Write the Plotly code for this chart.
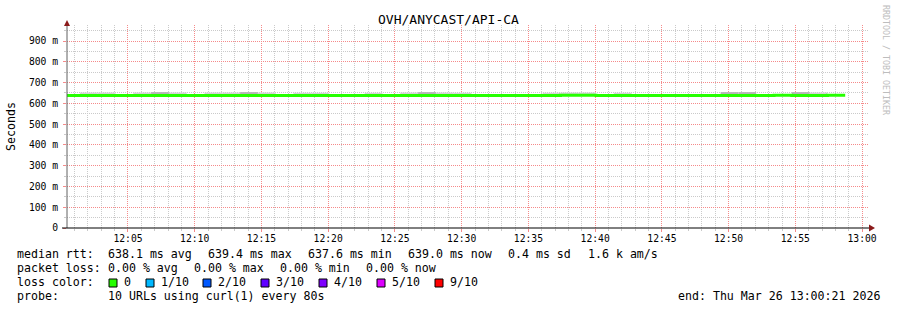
import plotly.graph_objects as go
import pandas as pd

# ---------------- data ----------------
title = "OVH/ANYCAST/API-CA"
first_edge = "2026-03-26 12:00:04"   # left edge of first 80 s sample
step_seconds = 80

# median rtt per 80 s interval (ms)
median_ms = [638.0, 637.9, 637.8, 638.0, 637.9, 638.1, 637.8, 637.9, 638.0, 637.8,
             638.1, 637.9, 637.7, 638.0, 637.9, 637.8, 637.9, 638.0, 637.8, 637.9,
             638.2, 637.9, 637.8, 638.0, 637.9, 637.7, 637.8, 638.0, 639.3, 639.4,
             638.0, 637.9, 637.8, 637.6, 637.8, 637.9, 637.8, 638.0, 637.9, 637.7,
             639.2, 637.8, 637.9, 639.0]

# upper edge of the visible smoke (ms); None = hidden under the median line
N = None
smoke_light_top = [N, 652, 652, N, 652, N, 652, N, 652, 652,
                   N, 652, N, 651, 651, N, N, 651, N, 652,
                   N, 652, 651, N, N, N, N, 651, 652, 652,
                   N, 651, N, N, N, N, N, N, N, N,
                   N, N, 652, N]
smoke_dark_top = [N, N, N, N, N, 654, N, N, N, N,
                  654, N, N, N, N, N, N, N, N, N,
                  654, N, N, N, N, N, N, N, N, N,
                  N, N, N, N, N, N, N, 654, 654, N,
                  N, 654, N, N]

x_range = ["2026-03-26 12:00:26", "2026-03-26 13:00:31"]
y_range = [0, 977]
y_tickvals = [0, 100, 200, 300, 400, 500, 600, 700, 800, 900]
y_ticktext = ["0", "100 m", "200 m", "300 m", "400 m", "500 m", "600 m", "700 m", "800 m", "900 m"]

stats_rtt = ["median rtt:", "638.1 ms avg", "639.4 ms max", "637.6 ms min",
             "639.0 ms now", "0.4 ms sd", "1.6 k am/s"]
stats_loss = ["packet loss:", "0.00 % avg", "0.00 % max", "0.00 % min", "0.00 % now"]
loss_labels = ["0", "1/10", "2/10", "3/10", "4/10", "5/10", "9/10"]
loss_colors = ["#26ff00", "#00b8ff", "#0059ff", "#5e00ff", "#7e00ff", "#dd00ff", "#ff0000"]
probe_text = "10 URLs using curl(1) every 80s"
end_text = "end: Thu Mar 26 13:00:21 2026"

# ---------------- layout geometry ----------------
W, H = 897, 310
PL, PR, PT, PB = 67, 869, 25, 228   # plot area in pixels


def px(x):
    return (x - PL) / (PR - PL)


def py(y):
    return (PB - y) / (PB - PT)


MONO = "DejaVu Sans Mono"

t0 = pd.Timestamp(first_edge)
step = pd.Timedelta(seconds=step_seconds)
edges = [t0 + step * i for i in range(len(median_ms) + 1)]
centers = [t0 + step * i + step / 2 for i in range(len(median_ms))]

hour0 = pd.Timestamp("2026-03-26 12:00:00")
x_minor = [hour0 + pd.Timedelta(minutes=m) for m in range(1, 61) if m % 5 != 0]
y_minor = [v for v in range(50, 1000, 100)]

fig = go.Figure()


def smoke_trace(tops, color):
    xs, bases, hs = [], [], []
    for c, m, t in zip(centers, median_ms, tops):
        if t is not None:
            xs.append(c)
            bases.append(m)
            hs.append(t - m)
    fig.add_trace(go.Bar(x=xs, y=hs, base=bases, width=step_seconds * 1000,
                         marker=dict(color=color, line=dict(width=0)),
                         showlegend=False, hoverinfo="skip"))


smoke_trace(smoke_light_top, "#d3d3d3")
smoke_trace(smoke_dark_top, "#b5b5b5")

fig.add_trace(go.Scatter(x=edges, y=median_ms + [median_ms[-1]], mode="lines",
                         line=dict(color=loss_colors[0], width=3, shape="hv"),
                         showlegend=False, hoverinfo="skip"))

major_grid = "#f58a8a"
minor_grid = "#cacaca"
grid_dash = "1px,1px"

fig.update_layout(
    width=W, height=H,
    margin=dict(l=PL, r=W - PR, t=PT, b=H - PB, pad=0),
    paper_bgcolor="white", plot_bgcolor="white",
    barmode="overlay",
    showlegend=False,
    font=dict(family=MONO, color="black"),
    xaxis=dict(type="date", range=x_range, tickformat="%H:%M",
               tick0="2026-03-26 12:00:00", dtick=300000,
               showgrid=True, gridcolor=major_grid, griddash=grid_dash, gridwidth=1,
               ticks="outside", ticklen=3, tickcolor=major_grid,
               ticklabelstandoff=-2,
               tickfont=dict(family=MONO, size=9.7, color="black"),
               zeroline=False, showline=False,
               minor=dict(tickmode="array", tickvals=x_minor, showgrid=True,
                          gridcolor=minor_grid, griddash=grid_dash, gridwidth=1,
                          ticks="outside", ticklen=2, tickcolor=minor_grid)),
    yaxis=dict(range=y_range, tickmode="array", tickvals=y_tickvals, ticktext=y_ticktext,
               showgrid=True, gridcolor=major_grid, griddash=grid_dash, gridwidth=1,
               ticks="outside", ticklen=3, tickcolor=major_grid,
               ticklabelstandoff=3,
               tickfont=dict(family=MONO, size=9.7, color="black"),
               zeroline=False, showline=False,
               minor=dict(tickmode="array", tickvals=y_minor, showgrid=True,
                          gridcolor=minor_grid, griddash=grid_dash, gridwidth=1,
                          ticks="outside", ticklen=2, tickcolor=minor_grid)),
)

shapes = []
# axes lines
shapes.append(dict(type="line", xref="paper", yref="paper", x0=0, x1=0, y0=0, y1=py(23),
                   line=dict(color="#606060", width=1)))
shapes.append(dict(type="line", xref="paper", yref="paper", x0=px(62), x1=1, y0=0, y1=0,
                   line=dict(color="black", width=1)))
# arrows
arrow_col = "#8b1a1a"
shapes.append(dict(type="path", xref="paper", yref="paper",
                   path=f"M {px(64)} {py(26)} L {px(67)} {py(20)} L {px(70)} {py(26)} Z",
                   fillcolor=arrow_col, line=dict(width=0)))
shapes.append(dict(type="path", xref="paper", yref="paper",
                   path=f"M {px(869)} {py(224.5)} L {px(875)} {py(228)} L {px(869)} {py(231.5)} Z",
                   fillcolor=arrow_col, line=dict(width=0)))

annotations = []


def text(x, y, s, size=11.6, anchor="left", color="black", angle=0):
    annotations.append(dict(x=px(x), y=py(y), xref="paper", yref="paper", text=s,
                            showarrow=False, xanchor=anchor, yanchor="middle",
                            textangle=angle, borderpad=0,
                            font=dict(family=MONO, size=size, color=color)))


text(448, 19, title, size=13, anchor="center")
text(11, 127, "Seconds", size=11.6, anchor="center", angle=-90)
text(886, 60, "RRDTOOL / TOBI OETIKER", size=8.3, anchor="center", color="#bdbdbd", angle=90)

for x, s in zip([16, 107, 207, 307, 407, 507, 587], stats_rtt):
    text(x, 254, s)
for x, s in zip([16, 107, 193, 279, 365], stats_loss):
    text(x, 268, s)
text(16, 282, "loss color:")
box_x = [109, 146, 203, 261, 319, 377, 435]
for bx, lab, col in zip(box_x, loss_labels, loss_colors):
    shapes.append(dict(type="rect", xref="paper", yref="paper",
                       x0=px(bx), x1=px(bx + 8), y0=py(287), y1=py(279),
                       fillcolor=col, line=dict(color="black", width=1)))
    text(bx + 14, 282, lab)
text(16, 296, "probe:")
text(107, 296, probe_text)
text(881, 296, end_text, anchor="right")

fig.update_layout(shapes=shapes, annotations=annotations)
fig.write_html("out.html")
